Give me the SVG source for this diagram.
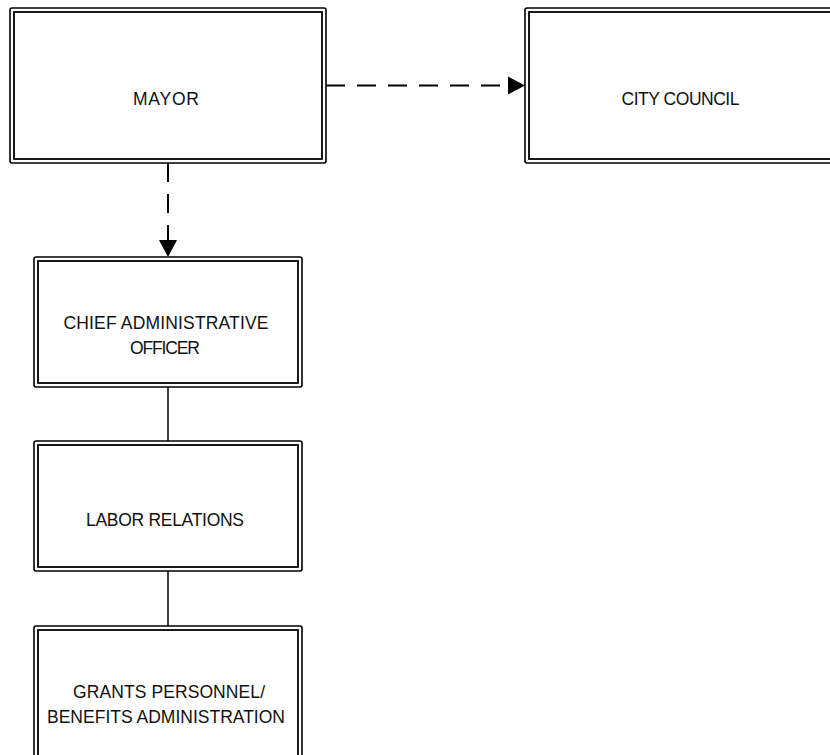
<svg xmlns="http://www.w3.org/2000/svg" width="830" height="755" viewBox="0 0 830 755">
<style>
.outer{fill:#fff;stroke:#000;stroke-width:1.6}
.inner{fill:none;stroke:#000;stroke-width:1.8}
.lbl{font-family:"Liberation Sans",Arial,sans-serif;font-size:17.5px;fill:#111;text-anchor:middle}
.dash{fill:none;stroke:#000;stroke-width:2;stroke-dasharray:19 12}
.solid{fill:none;stroke:#000;stroke-width:1.5}
</style>
<defs>
<marker id="arr" markerUnits="userSpaceOnUse" markerWidth="18" markerHeight="18" refX="0" refY="9" orient="auto" overflow="visible">
<path d="M0,0 L17,9 L0,18 z" fill="#000"/>
</marker>
</defs>
<rect width="830" height="755" fill="#fff"/>
<g id="connectors">
<path class="dash" d="M326,85.5 H508" marker-end="url(#arr)"/>
<path class="dash" d="M168,163 V240" marker-end="url(#arr)"/>
<path class="solid" d="M168,387 V441"/>
<path class="solid" d="M168,571 V626"/>
</g>
<g id="mayor">
<rect class="outer" x="10" y="8" width="316" height="155" rx="2"/>
<rect class="inner" x="14" y="12" width="308" height="147"/>
<text class="lbl" x="166" y="104.5" textLength="66">MAYOR</text>
</g>
<g id="city-council">
<rect class="outer" x="525" y="8" width="330" height="155" rx="2"/>
<rect class="inner" x="529" y="12" width="322" height="147"/>
<text class="lbl" x="680.5" y="104.5" textLength="118">CITY COUNCIL</text>
</g>
<g id="cao">
<rect class="outer" x="34" y="257" width="268" height="130" rx="2"/>
<rect class="inner" x="38" y="261" width="260" height="122"/>
<text class="lbl" x="166" y="329" textLength="205">CHIEF ADMINISTRATIVE</text>
<text class="lbl" x="165" y="354" textLength="70">OFFICER</text>
</g>
<g id="labor-relations">
<rect class="outer" x="34" y="441" width="268" height="130" rx="2"/>
<rect class="inner" x="38" y="445" width="260" height="122"/>
<text class="lbl" x="165" y="526" textLength="158">LABOR RELATIONS</text>
</g>
<g id="grants">
<rect class="outer" x="34" y="626" width="268" height="140" rx="2"/>
<rect class="inner" x="38" y="630" width="260" height="132"/>
<text class="lbl" x="169" y="698" textLength="192">GRANTS PERSONNEL/</text>
<text class="lbl" x="166" y="723" textLength="238">BENEFITS ADMINISTRATION</text>
</g>
</svg>
